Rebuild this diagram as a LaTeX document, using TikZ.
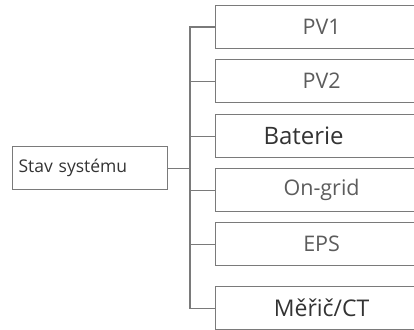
\documentclass[tikz,border=0pt]{standalone}
\usepackage{fontspec}
\setmainfont{Open Sans}
\definecolor{linegray}{HTML}{7A7A7A}
\definecolor{lighttext}{HTML}{5C5C5C}
\definecolor{darktext}{HTML}{333333}
\begin{document}
\begin{tikzpicture}[x=1pt,y=-1pt,
  conn/.style={draw=linegray,line width=1.2pt},
  childbox/.style={draw=linegray,line width=1.2pt,rectangle,anchor=north west,
    minimum width=212pt,minimum height=43pt,inner sep=0pt},
  lightlbl/.style={text=lighttext,font=\fontsize{21.5}{24}\selectfont},
  darklbl/.style={text=darktext,font=\fontsize{23}{26}\selectfont},
  rootbox/.style={draw=linegray,line width=1.2pt,rectangle,anchor=north west,
    text width=143pt,inner xsep=6pt,minimum height=43pt,align=left,
    text=darktext,font=\fontsize{17.5}{20}\selectfont}]
\useasboundingbox (0,0) rectangle (414,329);
\clip (0,0) rectangle (414,329);
\node[rootbox] (stav) at (12,146) {Stav systému};
\node[childbox,lightlbl] (pv1) at (215,5) {PV1};
\node[childbox,lightlbl] (pv2) at (215,59) {PV2};
\node[childbox,darklbl,font=\fontsize{24}{27}\selectfont] (bat) at (215,114) {\hspace*{-36pt}Baterie};
\node[childbox,lightlbl] (ong) at (215,168) {On-grid};
\node[childbox,lightlbl] (eps) at (215,222) {EPS};
\node[childbox,darklbl] (mer) at (215,286) {Měřič/CT};
\coordinate (tr) at (190,0);
\draw[conn] (stav.east) -- (stav.east -| tr);
\draw[conn] (pv1.west) -- (pv1.west -| tr) -- (mer.west -| tr) -- (mer.west);
\draw[conn] (pv2.west) -- (pv2.west -| tr);
\draw[conn] (bat.west) -- (bat.west -| tr);
\draw[conn] (ong.west) -- (ong.west -| tr);
\draw[conn] (eps.west) -- (eps.west -| tr);
\end{tikzpicture}
\end{document}
